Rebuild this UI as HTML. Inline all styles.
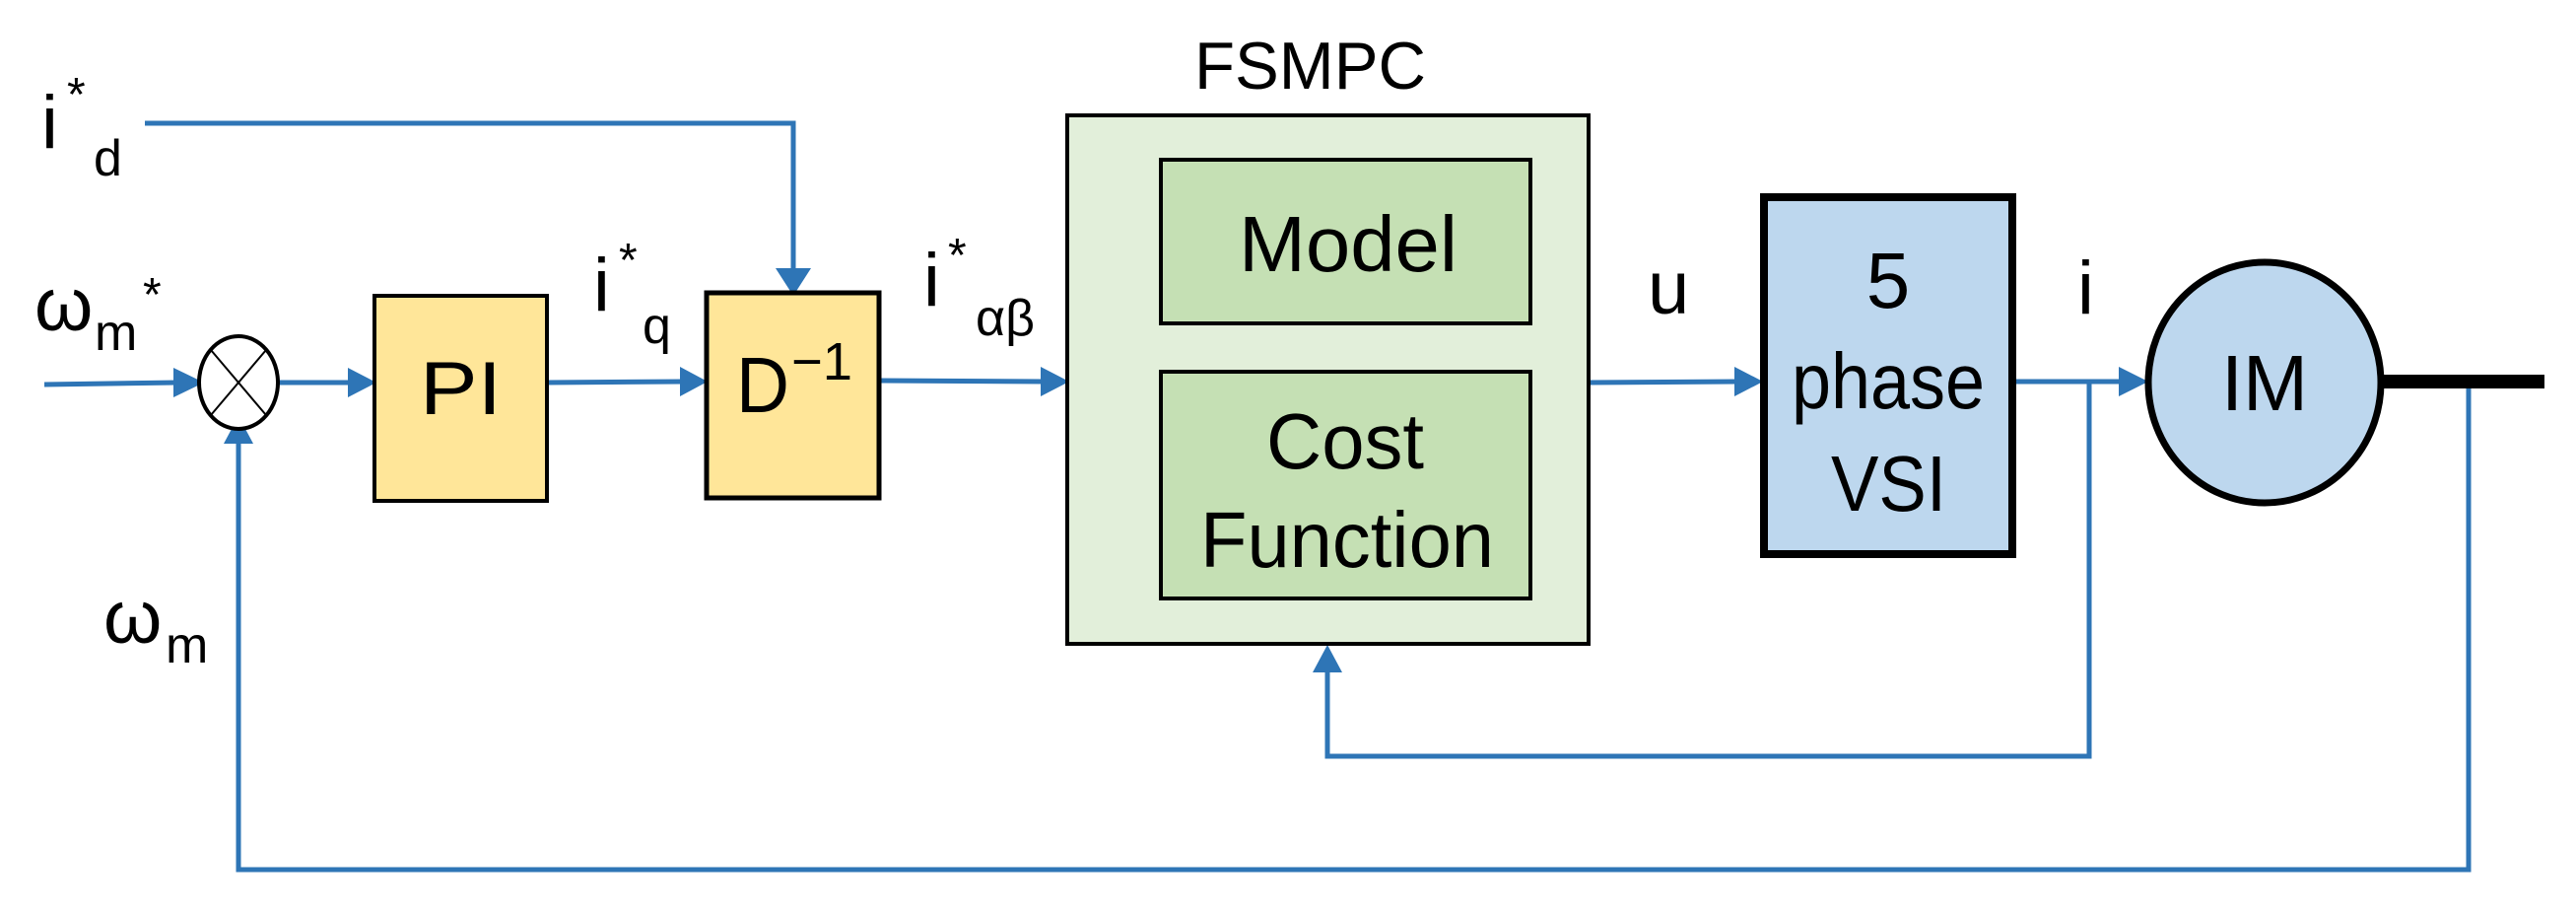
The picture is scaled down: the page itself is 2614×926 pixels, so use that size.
<!DOCTYPE html>
<html><head><meta charset="utf-8"><style>
html,body{margin:0;padding:0;background:#fff;}
svg{display:block;}
text{font-family:"Liberation Sans Narrow","Liberation Sans",sans-serif;fill:#000;}
</style></head><body>
<svg width="2614" height="926" viewBox="0 0 2614 926" xmlns="http://www.w3.org/2000/svg">
<g stroke="#2E75B6" stroke-width="5" fill="none">
<polyline points="147,125 805,125 805,272"/>
<line x1="45" y1="390" x2="180" y2="388"/>
<line x1="275" y1="388" x2="357" y2="388"/>
<line x1="555" y1="388" x2="694" y2="387"/>
<line x1="892" y1="386" x2="1060" y2="387"/>
<line x1="1612" y1="388" x2="1764" y2="387"/>
<line x1="2042" y1="387" x2="2155" y2="387"/>
<polyline points="2120,387 2120,767 1347,767 1347,678"/>
<polyline points="2505,387 2505,882 242,882 242,445"/>
</g>
<g fill="#2E75B6">
<polygon points="787,272 823,272 805,300"/>
<polygon points="176,373 176,403 207,388"/>
<polygon points="353,373 353,403 382,388"/>
<polygon points="690,372 690,402 718,387"/>
<polygon points="1056,372 1056,402 1085,387"/>
<polygon points="1760,372 1760,402 1789,387"/>
<polygon points="2150,372 2150,402 2180,387"/>
<polygon points="1332,682 1362,682 1347,654"/>
<polygon points="227,450 257,450 242,422"/>
</g>
<ellipse cx="242" cy="388" rx="40" ry="47" fill="#fff" stroke="#000" stroke-width="4"/>
<line x1="214" y1="355" x2="270" y2="421" stroke="#000" stroke-width="2"/>
<line x1="270" y1="355" x2="214" y2="421" stroke="#000" stroke-width="2"/>
<rect x="380" y="300" width="175" height="208" fill="#FFE699" stroke="#000" stroke-width="4"/>
<text x="426" y="420" font-size="76" textLength="83" lengthAdjust="spacingAndGlyphs">PI</text>
<rect x="717" y="297" width="175" height="208" fill="#FFE699" stroke="#000" stroke-width="5"/>
<text x="747" y="418" font-size="80" textLength="54" lengthAdjust="spacingAndGlyphs">D</text>
<text x="803" y="385" font-size="54" textLength="62" lengthAdjust="spacingAndGlyphs">−1</text>
<text x="1212" y="90" font-size="68" textLength="235" lengthAdjust="spacingAndGlyphs">FSMPC</text>
<rect x="1083" y="117" width="529" height="536" fill="#E2EFDA" stroke="#000" stroke-width="4"/>
<rect x="1178" y="162" width="375" height="166" fill="#C5E0B4" stroke="#000" stroke-width="4"/>
<text x="1257" y="275" font-size="80" textLength="222" lengthAdjust="spacingAndGlyphs">Model</text>
<rect x="1178" y="377" width="375" height="230" fill="#C5E0B4" stroke="#000" stroke-width="4"/>
<text x="1285" y="475" font-size="80" textLength="160" lengthAdjust="spacingAndGlyphs">Cost</text>
<text x="1218" y="575" font-size="80" textLength="298" lengthAdjust="spacingAndGlyphs">Function</text>
<rect x="1790" y="200" width="252" height="362" fill="#BDD7EE" stroke="#000" stroke-width="8"/>
<text x="1916" y="312" font-size="80" text-anchor="middle">5</text>
<text x="1818" y="414" font-size="80" textLength="196" lengthAdjust="spacingAndGlyphs">phase</text>
<text x="1858" y="518" font-size="80" textLength="117" lengthAdjust="spacingAndGlyphs">VSI</text>
<line x1="2400" y1="387" x2="2582" y2="387" stroke="#000" stroke-width="14"/>
<ellipse cx="2298" cy="388" rx="118" ry="122" fill="#BDD7EE" stroke="#000" stroke-width="7"/>
<text x="2254" y="416" font-size="80" textLength="88" lengthAdjust="spacingAndGlyphs">IM</text>
<text x="42" y="150" font-size="76">i</text><text x="68" y="112" font-size="48">*</text><text x="95" y="178" font-size="52">d</text>
<text x="35" y="335" font-size="76">ω</text><text x="96" y="355" font-size="52">m</text><text x="145" y="315" font-size="48">*</text>
<text x="105" y="652" font-size="76">ω</text><text x="168" y="672" font-size="52">m</text>
<text x="602" y="315" font-size="76">i</text><text x="628" y="280" font-size="48">*</text><text x="652" y="348" font-size="52">q</text>
<text x="937" y="310" font-size="76">i</text><text x="962" y="275" font-size="48">*</text><text x="990" y="340" font-size="52">αβ</text>
<text x="1672" y="318" font-size="76">u</text>
<text x="2108" y="318" font-size="76">i</text>
</svg>
</body></html>
